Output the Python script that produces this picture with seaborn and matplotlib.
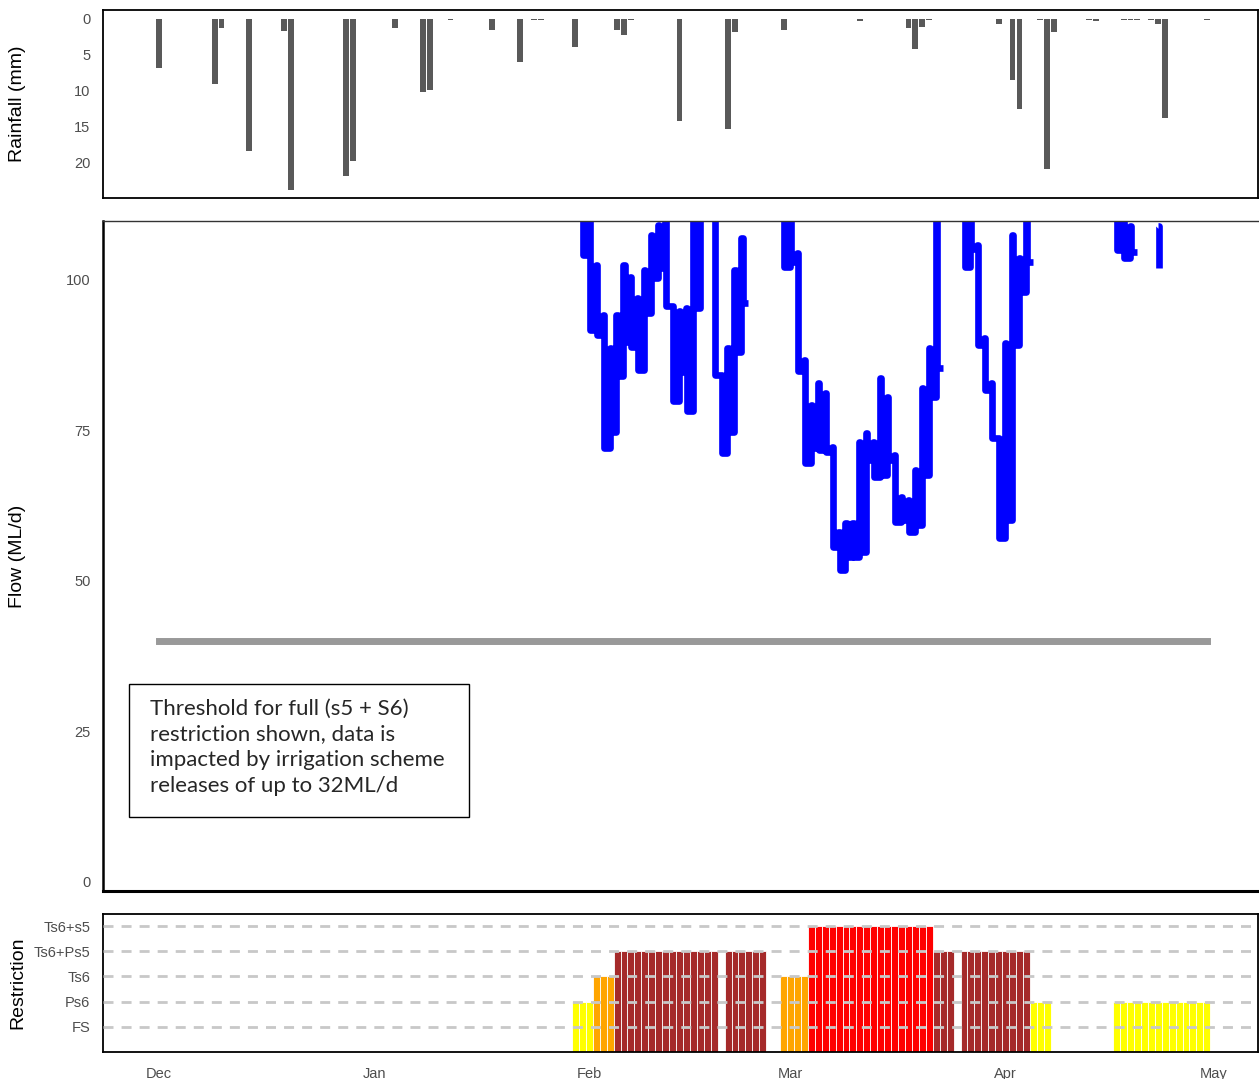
import numpy as np
import pandas as pd
import seaborn as sns
import matplotlib
matplotlib.use("Agg")
import matplotlib.pyplot as plt
import matplotlib.dates as mdates
from matplotlib.patches import Rectangle

# ---- data ----
# daily rainfall (mm)
rain_dates = ["2019-12-01", "2019-12-09", "2019-12-10", "2019-12-14", "2019-12-19",
              "2019-12-20", "2019-12-28", "2019-12-29", "2020-01-04", "2020-01-08",
              "2020-01-09", "2020-01-12", "2020-01-18", "2020-01-22", "2020-01-24",
              "2020-01-25", "2020-01-30", "2020-02-05", "2020-02-06", "2020-02-07",
              "2020-02-14", "2020-02-21", "2020-02-22", "2020-02-29", "2020-03-11",
              "2020-03-18", "2020-03-19", "2020-03-20", "2020-03-21", "2020-03-31",
              "2020-04-02", "2020-04-03", "2020-04-06", "2020-04-07", "2020-04-08",
              "2020-04-13", "2020-04-14", "2020-04-18", "2020-04-19", "2020-04-20",
              "2020-04-22", "2020-04-23", "2020-04-24", "2020-04-30"]
rain_mm = [6.9, 9.1, 1.3, 18.4, 1.7,
           23.9, 22.0, 19.8, 1.3, 10.2,
           10.0, 0.2, 1.6, 6.0, 0.2,
           0.2, 4.0, 1.6, 2.3, 0.2,
           14.2, 15.4, 1.9, 1.6, 0.3,
           1.3, 4.3, 1.1, 0.2, 0.7,
           8.6, 12.6, 0.2, 20.9, 1.9,
           0.2, 0.4, 0.2, 0.2, 0.2,
           0.2, 0.7, 13.8, 0.2]

# flow (ML/d): daily high / low, NaN = no data, values > 110 run off the top
nan = np.nan
flow_start = "2020-01-31"
flow_high = [115, 115, 102.5, 94.2, 88.7, 94.2, 102.5, 100.5, 97.0, 101.7,
             107.5, 109.1, 115, 95.7, 94.8, 95.3, 115, 115, 115, 115,
             84.2, 88.7, 101.7, 107.0, nan, nan, nan, nan, nan, 115,
             115, 104.5, 86.7, 79.2, 82.9, 81.2, 72.3, 58.1, 59.6, 59.6,
             73.1, 74.6, 73.1, 83.7, 80.6, 70.9, 64.0, 63.5, 68.4, 82.1,
             88.7, 115, nan, nan, nan, 115, 115, 105.8, 90.4, 82.9,
             73.8, 89.5, 107.5, 103.7, 115, nan, nan, nan, nan, nan,
             nan, nan, nan, nan, nan, nan, nan, 115, 115, 109.0,
             nan, nan, nan, 109.0]
flow_low = [104.2, 91.7, 90.9, 72.1, 74.8, 84.0, 89.7, 88.9, 85.1, 94.5,
            100.3, 102.0, 95.7, 79.9, 84.7, 78.2, 95.3, 115, 115, 84.2,
            71.2, 74.8, 88.1, 96.2, nan, nan, nan, nan, nan, 102.2,
            103.0, 84.8, 69.6, 72.1, 71.8, 71.4, 55.6, 51.8, 54.0, 54.0,
            54.8, 70.1, 67.3, 67.6, 70.1, 59.8, 60.1, 58.1, 59.3, 67.6,
            80.6, 85.4, nan, nan, nan, 102.2, 105.2, 89.2, 81.7, 73.8,
            57.1, 60.1, 89.2, 98.0, 103.0, nan, nan, nan, nan, nan,
            nan, nan, nan, nan, nan, nan, nan, 105.0, 103.7, 104.6,
            nan, nan, nan, 102.0]

threshold = 40
threshold_from = "2019-12-01"
threshold_to = "2020-04-30"
note = ("Threshold for full (s5 + S6)\nrestriction shown, data is\n"
        "impacted by irrigation scheme\nreleases of up to 32ML/d")

# restriction: (first day, last day, level)
restriction_levels = ["FS", "Ps6", "Ts6", "Ts6+Ps5", "Ts6+s5"]
restriction_colours = {"Ps6": "#FFFF00", "Ts6": "#FFA500",
                       "Ts6+Ps5": "#A52A2A", "Ts6+s5": "#FF0000"}
restriction_runs = [("2020-01-30", "2020-02-01", "Ps6"),
                    ("2020-02-02", "2020-02-04", "Ts6"),
                    ("2020-02-05", "2020-02-19", "Ts6+Ps5"),
                    ("2020-02-21", "2020-02-26", "Ts6+Ps5"),
                    ("2020-02-29", "2020-03-03", "Ts6"),
                    ("2020-03-04", "2020-03-21", "Ts6+s5"),
                    ("2020-03-22", "2020-03-24", "Ts6+Ps5"),
                    ("2020-03-26", "2020-04-04", "Ts6+Ps5"),
                    ("2020-04-05", "2020-04-07", "Ps6"),
                    ("2020-04-17", "2020-04-30", "Ps6")]

month_ticks = ["2019-12-01", "2020-01-01", "2020-02-01", "2020-03-01", "2020-04-01", "2020-05-01"]
xmin, xmax = pd.Timestamp("2019-11-22 22:00"), pd.Timestamp("2020-05-07 09:00")

# ---- build frames ----
rain = pd.DataFrame({"date": pd.to_datetime(rain_dates), "mm": rain_mm})

fdays = pd.date_range(flow_start, periods=len(flow_high), freq="D")
flow_t, flow_v = [], []
for d, hi, lo in zip(fdays, flow_high, flow_low):
    flow_t += [d - pd.Timedelta(hours=2), d + pd.Timedelta(hours=2)]
    flow_v += [hi, lo]

rows = []
for a, b, lev in restriction_runs:
    for d in pd.date_range(a, b):
        rows.append((d, lev))
restr = pd.DataFrame(rows, columns=["date", "level"])
restr["y"] = restr["level"].map({l: i + 1 for i, l in enumerate(restriction_levels)})

# ---- plot ----
sns.set_theme(style="white")
plt.rcParams["font.family"] = ["Liberation Sans", "DejaVu Sans"]

fig = plt.figure(figsize=(12.59, 10.79), dpi=100)
W, H = 1259, 1079
def box(x0, y0, x1, y1):
    return [x0 / W, 1 - y1 / H, (x1 - x0) / W, (y1 - y0) / H]

ax1 = fig.add_axes(box(103, 10, 1258, 198))
ax2 = fig.add_axes(box(103, 221, 1258, 891))
ax3 = fig.add_axes(box(103, 914, 1258, 1052))

tick_col = "#4D4D4D"

# rainfall
ax1.bar(rain["date"], rain["mm"], width=0.85, color="#595959", edgecolor="none")
ax1.set_ylim(25.0, -1.2)
ax1.set_yticks([0, 5, 10, 15, 20])
ax1.set_ylabel("Rainfall (mm)", fontsize=14, color="black")

# flow
ax2.plot(flow_t, flow_v, color="#0000FF", lw=4.8, drawstyle="steps-post",
         solid_joinstyle="round", solid_capstyle="butt")
sns.lineplot(x=pd.to_datetime([threshold_from, threshold_to]), y=[threshold, threshold],
             ax=ax2, color="#999999", lw=5)
ax2.lines[-1].set_solid_capstyle("projecting")
ax2.set_ylim(-1.5, 109.8)
ax2.set_yticks([0, 25, 50, 75, 100])
ax2.set_xlabel("")
ax2.set_ylabel("Flow (ML/d)", fontsize=14, color="black")
ax2.add_patch(Rectangle((0.0225, 0.110), 0.2941, 0.199, transform=ax2.transAxes,
                        facecolor="white", edgecolor="black", lw=1.0, zorder=5))
ax2.text(0.0407, 0.287, note, transform=ax2.transAxes, ha="left", va="top",
         fontsize=16, family=["Lato", "DejaVu Sans"], linespacing=1.36, zorder=6)

# restriction
ax3.bar(restr["date"], restr["y"], width=1.0,
        color=[restriction_colours[l] for l in restr["level"]],
        edgecolor="white", linewidth=0.6, zorder=1)
ax3.set_ylim(0, 5.48)
ax3.set_yticks(range(1, 6))
ax3.set_yticklabels(restriction_levels)
ax3.set_axisbelow(False)
ax3.yaxis.grid(True, color="#C8C8C8", lw=2, linestyle=(0, (3.6, 2.9)))
ax3.xaxis.grid(False)
ax3.set_ylabel("Restriction", fontsize=14, color="black")

for ax in (ax1, ax2, ax3):
    ax.set_xlim(xmin, xmax)
    ax.set_xticks(pd.to_datetime(month_ticks))
    ax.tick_params(length=0, labelsize=10.5, labelcolor=tick_col, pad=9)
    ax.yaxis.set_label_coords(-0.0666, 0.5)
    for s in ax.spines.values():
        s.set_color("black")
        s.set_linewidth(1.3)

ax1.tick_params(labelbottom=False)
ax2.tick_params(labelbottom=False)
ax3.xaxis.set_major_formatter(mdates.DateFormatter("%b"))
ax3.tick_params(axis="x", pad=11)

ax2.spines["right"].set_visible(False)
ax2.spines["top"].set_color("#333333")
ax2.spines["top"].set_linewidth(1.0)
ax2.spines["left"].set_linewidth(1.8)
ax2.spines["bottom"].set_linewidth(2.2)

fig.savefig("out.png", dpi=100)
